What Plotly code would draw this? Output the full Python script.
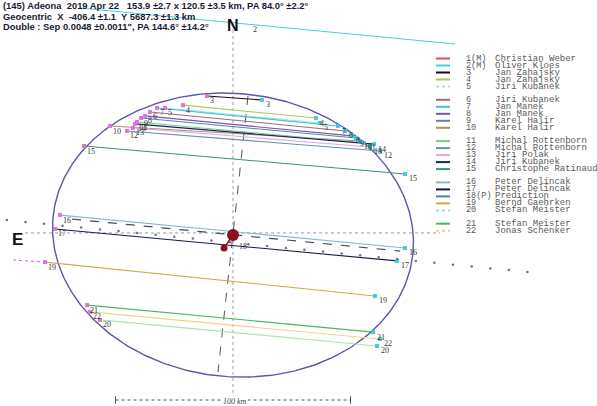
import numpy as np
import plotly.graph_objects as go

# ---------------- data (km in the sky plane, origin = fitted centre) ----------------
chord_num = [2, 3, 4, 5, 6, 7, 8, 9, 10, 11, 12, 13, 14, 15, 16, 17, 18, 19, 20, 21, 22]
chord_kind = ["miss", "pos", "pos", "pos", "pos", "pos", "pos", "pos", "pos", "pos", "pos",
              "pos", "pos", "pos", "pos", "pos", "pred", "pos", "pos", "pos", "pos"]
chord_x1 = [-65.1, -11.1, -21.3, -28.9, -35.3, -32.3, -37.4, -39.1, -52.3, -40.9, -45.1,
            -42.6, -41.7, -63.4, -73.6, -75.7, -68.5, -80.0, -56.6, -62.1, -60.9]
chord_y1 = [97.0, 59.6, 55.7, 54.5, 52.8, 54.5, 51.1, 50.2, 46.8, 48.5, 44.7,
            46.0, 47.7, 38.3, 8.9, 3.0, 7.2, -11.1, -35.7, -29.4, -32.3]
chord_x2 = [94.5, 12.3, 35.3, 37.0, 47.7, 44.7, 50.6, 52.3, 54.0, 55.7, 62.6,
            58.3, 60.0, 73.2, 73.2, 69.8, 71.1, 60.4, 61.3, 59.6, 62.6]
chord_y2 = [81.7, 57.9, 50.2, 48.1, 44.7, 46.8, 42.6, 41.7, 40.4, 39.6, 36.2,
            37.9, 39.1, 26.4, -5.1, -10.6, -6.4, -25.5, -46.8, -40.9, -43.8]

# observers (legend)
obs_tag = ["1(M)", "2(M)", "3", "4", "5", "6", "7", "8", "9", "10", "11", "12", "13", "14",
           "15", "16", "17", "18(P)", "19", "20", "21", "22"]
obs_name = ["Christian Weber", "Oliver Kloes", "Jan Zahajsky", "Jan Zahajsky", "Jiri Kubanek",
            "Jiri Kubanek", "Jan Manek", "Jan Manek", "Karel Halir", "Karel Halir",
            "Michal Rottenborn", "Michal Rottenborn", "Jiri Polak", "Jiri Kubanek",
            "Christophe Ratinaud", "Peter Delincak", "Peter Delincak", "Prediction",
            "Bernd Gaehrken", "Stefan Meister", "Stefan Meister", "Jonas Schenker"]
obs_color = ["#e04858", "#48d0d8", "#200818", "#a8c860", "#a8e0ee", "#a06878", "#40c4c8",
             "#8050b0", "#5088a8", "#b09060", "#78d078", "#6890a8", "#e0a8e8", "#142070",
             "#389478", "#88b8c8", "#141c40", "#4884a4", "#d0a848", "#a8e8a8", "#48b858",
             "#f0d480"]
obs_dash = ["solid", "solid", "solid", "solid", "dot", "solid", "solid", "solid", "solid",
            "solid", "solid", "solid", "solid", "solid", "solid", "solid", "solid", "solid",
            "solid", "dot", "solid", "dot"]

# fitted shape (from the header)
fit_major = 153.9
fit_minor = 120.5
fit_pa = 84.0
fit_cx, fit_cy = 0.0, 0.4

# secondary component of the double star
sec_x, sec_y = -3.8, -5.1

# predicted path points
path_x = [-96.2, -88.3, -80.4, -72.5, -64.6, -56.6, -48.7, -40.8, -32.9, -25.0, -17.1, -9.2,
          -1.3, 6.6, 14.5, 22.5, 30.4, 38.3, 46.2, 54.1, 62.0, 69.9, 77.8, 85.7, 93.6,
          101.6, 109.5, 117.4, 125.3]
path_y = [6.8, 6.0, 5.2, 4.4, 3.6, 2.8, 2.1, 1.3, 0.5, -0.3, -1.1, -1.9, -2.7, -3.5, -4.3,
          -5.1, -5.9, -6.6, -7.4, -8.2, -9.0, -9.8, -10.6, -11.4, -12.2, -13.0, -13.8,
          -14.5, -15.3]

# tilted axis of the fit (dashed) and timing-error extension of chord 19
axis_x = [6.4, -6.4]
axis_y = [59.6, -57.9]
ext19_x = [-93.6, -80.0]
ext19_y = [-10.2, -11.1]

title_lines = ["(145) Adeona  2019 Apr 22   153.9 \u00b12.7 x 120.5 \u00b13.5 km, PA 84.0\u00b0 \u00b12.2\u00b0",
               "Geocentric  X  -406.4 \u00b11.1  Y 5687.3 \u00b11.3 km",
               "Double : Sep 0.0048 \u00b10.0011\", PA 144.6\u00b0 \u00b114.2\u00b0"]

# ---------------- figure ----------------
W, H = 597, 406
fig = go.Figure()

# reference axes (dotted)
fig.add_trace(go.Scatter(x=[-88.5, 88.1], y=[1.3, 1.3], mode="lines",
                         line=dict(color="#9a9aa6", width=1, dash="dot"), hoverinfo="skip"))
fig.add_trace(go.Scatter(x=[0, 0], y=[87.7, -69.8], mode="lines",
                         line=dict(color="#9a9aa6", width=1, dash="dot"), hoverinfo="skip"))

# fitted ellipse
t = np.linspace(0, 2 * np.pi, 361)
a, b = fit_major / 2, fit_minor / 2
th = np.radians(fit_pa - 90.0)
ex = fit_cx + a * np.cos(t) * np.cos(th) - b * np.sin(t) * np.sin(th)
ey = fit_cy + a * np.cos(t) * np.sin(th) + b * np.sin(t) * np.cos(th)
fig.add_trace(go.Scatter(x=ex, y=ey, mode="lines", line=dict(color="#5a58a8", width=1.4),
                         hoverinfo="skip"))

# tilted dashed axis
fig.add_trace(go.Scatter(x=axis_x, y=axis_y, mode="lines",
                         line=dict(color="#555560", width=1, dash="dash"), hoverinfo="skip"))

# chords
color_of = {tag.split("(")[0]: c for tag, c in zip(obs_tag, obs_color)}
for n, k, x1, y1, x2, y2 in zip(chord_num, chord_kind, chord_x1, chord_y1, chord_x2, chord_y2):
    c = color_of[str(n)]
    if k == "pred":
        line = dict(color="#4a4a58", width=1.2, dash="dash")
    else:
        line = dict(color=c, width=1.1)
    fig.add_trace(go.Scatter(x=[x1, x2], y=[y1, y2], mode="lines", line=line, hoverinfo="skip"))

fig.add_trace(go.Scatter(x=ext19_x, y=ext19_y, mode="lines",
                         line=dict(color="#d060d0", width=1, dash="dot"), hoverinfo="skip"))

# chord end markers
pos = [i for i, k in enumerate(chord_kind) if k == "pos"]
fig.add_trace(go.Scatter(x=[chord_x1[i] for i in pos], y=[chord_y1[i] for i in pos],
                         mode="markers", marker=dict(symbol="square", size=4, color="#e070e0",
                                                     line=dict(width=0)), hoverinfo="skip"))
fig.add_trace(go.Scatter(x=[chord_x2[i] for i in pos], y=[chord_y2[i] for i in pos],
                         mode="markers", marker=dict(symbol="square", size=4, color="#48c8e0",
                                                     line=dict(width=0)), hoverinfo="skip"))

# predicted path dots
fig.add_trace(go.Scatter(x=path_x, y=path_y, mode="markers",
                         marker=dict(size=2.5, color="#707088"), hoverinfo="skip"))

# double star
fig.add_trace(go.Scatter(x=[fit_cx, sec_x], y=[fit_cy, sec_y], mode="lines",
                         line=dict(color="#8a1022", width=1.5), hoverinfo="skip"))
fig.add_trace(go.Scatter(x=[sec_x], y=[sec_y], mode="markers",
                         marker=dict(size=7, color="#8a1022"), hoverinfo="skip"))
fig.add_trace(go.Scatter(x=[fit_cx], y=[fit_cy], mode="markers",
                         marker=dict(size=12, color="#8a1022"), hoverinfo="skip"))

# scale bar
fig.add_trace(go.Scatter(x=[-50, 50], y=[-69.8, -69.8], mode="lines",
                         line=dict(color="#555", width=1, dash="dot"), hoverinfo="skip"))
for sx in (-50, 50):
    fig.add_trace(go.Scatter(x=[sx, sx], y=[-68.2, -71.4], mode="lines",
                             line=dict(color="#555", width=1), hoverinfo="skip"))

annotations = []
lab_font = dict(family="Liberation Serif", size=8, color="#333333")
for n, k, x1, y1, x2, y2 in zip(chord_num, chord_kind, chord_x1, chord_y1, chord_x2, chord_y2):
    if k != "pos":
        continue
    annotations.append(dict(x=x1, y=y1, text=str(n), showarrow=False, xref="x", yref="y",
                            xanchor="left", yanchor="middle", xshift=1, yshift=-5, font=lab_font))
    annotations.append(dict(x=x2, y=y2, text=str(n), showarrow=False, xref="x", yref="y",
                            xanchor="left", yanchor="middle", xshift=2, yshift=-5, font=lab_font))
annotations.append(dict(x=9.4, y=87.7, text="2", showarrow=False, font=lab_font))
annotations.append(dict(x=1.7, y=-4.6, text="18", showarrow=False, xanchor="left", font=lab_font))
annotations.append(dict(x=0, y=-69.8, text="<i>100 km</i>", showarrow=False, bgcolor="white",
                        font=dict(family="Liberation Serif", size=8, color="#444"),
                        xshift=2, yshift=-1, borderpad=0))

# pixel-space texts (second axis pair)
annotations.append(dict(x=233, y=25, xref="x2", yref="y2", text="<b>N</b>", showarrow=False,
                        font=dict(family="Liberation Sans", size=16, color="#111")))
annotations.append(dict(x=17, y=239, xref="x2", yref="y2", text="<b>E</b>", showarrow=False,
                        font=dict(family="Liberation Sans", size=17, color="#111")))
for i, txt in enumerate(title_lines):
    annotations.append(dict(x=1, y=5.5 + 10.5 * i, xref="x2", yref="y2", text="<b>" + txt + "</b>",
                            showarrow=False, xanchor="left", yanchor="middle",
                            font=dict(family="Liberation Sans", size=9.4, color="#1a1a38")))

# legend block
row_y = []
for i in range(len(obs_tag)):
    row_y.append(58.5 + 7.0 * i + 6.3 * (i // 5))
leg_font = dict(family="Liberation Mono", size=9, color="#5a5a5a")
tag_font = dict(family="Liberation Mono", size=8.5, color="#5a5a5a")
for i, (tag, name, col, dsh) in enumerate(zip(obs_tag, obs_name, obs_color, obs_dash)):
    fig.add_trace(go.Scatter(x=[436, 450], y=[row_y[i], row_y[i]], xaxis="x2", yaxis="y2",
                             mode="lines", line=dict(color=col, width=2, dash=dsh),
                             hoverinfo="skip"))
    annotations.append(dict(x=464, y=row_y[i], xref="x2", yref="y2", text=tag, showarrow=False,
                            xanchor="left", yanchor="middle", font=tag_font))
    annotations.append(dict(x=493, y=row_y[i], xref="x2", yref="y2",
                            text=name.replace(" ", "\u00a0"), showarrow=False,
                            xanchor="left", yanchor="middle", font=leg_font))

fig.update_layout(
    width=W, height=H, margin=dict(l=0, r=0, t=0, b=0),
    paper_bgcolor="white", plot_bgcolor="white", showlegend=False,
    xaxis=dict(range=[-99.15, 154.89], visible=False, fixedrange=True),
    yaxis=dict(range=[-72.34, 100.43], visible=False, fixedrange=True),
    xaxis2=dict(range=[0, W], overlaying="x", anchor="y2", visible=False),
    yaxis2=dict(range=[H, 0], overlaying="y", anchor="x2", visible=False),
    annotations=annotations,
)
fig.write_html("out.html")
